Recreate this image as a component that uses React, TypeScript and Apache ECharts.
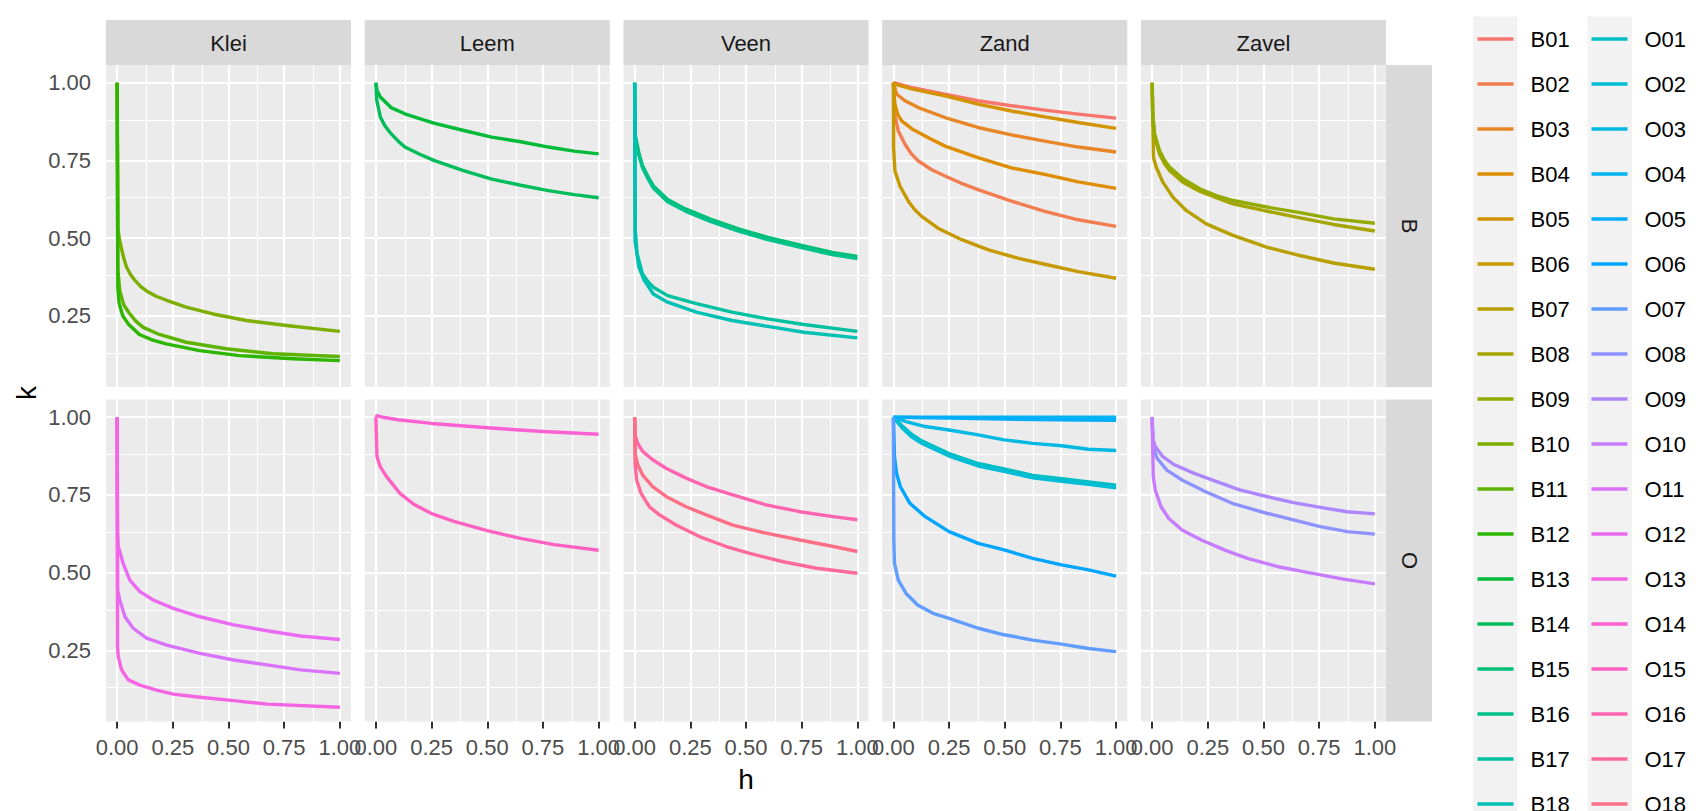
import React, { useEffect, useRef } from 'react';
import * as echarts from 'echarts';

// ---------- categories & ticks ----------
const SOILS = ['Klei', 'Leem', 'Veen', 'Zand', 'Zavel'];
const GROUPS = ['B', 'O'];
const X_TICKS = [0, 0.25, 0.5, 0.75, 1];
const X_MINOR = [0.125, 0.375, 0.625, 0.875];
const Y_TICKS = [0.25, 0.5, 0.75, 1];
const Y_MINOR = [0.125, 0.375, 0.625, 0.875];
const X_TITLE = 'h';
const Y_TITLE = 'k';

// ---------- series values: [h, k] ----------
const B01 = [[0, 1], [0.08, 0.985], [0.23, 0.963], [0.38, 0.942], [0.53, 0.926], [0.68, 0.912], [0.83, 0.899], [1, 0.886]];
const B02 = [[0, 1], [0.005, 0.9], [0.022, 0.845], [0.052, 0.802], [0.08, 0.772], [0.112, 0.748], [0.172, 0.72], [0.232, 0.7], [0.3, 0.678], [0.38, 0.656], [0.53, 0.619], [0.68, 0.586], [0.83, 0.559], [1, 0.538]];
const B03 = [[0, 1], [0.015, 0.963], [0.052, 0.942], [0.112, 0.92], [0.232, 0.888], [0.38, 0.856], [0.53, 0.832], [0.68, 0.812], [0.83, 0.793], [1, 0.777]];
const B04 = [[0, 1], [0.003, 0.96], [0.007, 0.931], [0.02, 0.897], [0.037, 0.877], [0.082, 0.852], [0.157, 0.823], [0.232, 0.796], [0.38, 0.759], [0.53, 0.726], [0.68, 0.705], [0.83, 0.681], [1, 0.66]];
const B05 = [[0, 1], [0.022, 0.992], [0.082, 0.98], [0.232, 0.958], [0.38, 0.931], [0.53, 0.909], [0.68, 0.89], [0.83, 0.872], [1, 0.853]];
const B06 = [[0, 1], [0.001, 0.79], [0.007, 0.716], [0.03, 0.667], [0.067, 0.619], [0.095, 0.592], [0.127, 0.57], [0.2, 0.532], [0.307, 0.495], [0.427, 0.462], [0.562, 0.435], [0.68, 0.416], [0.83, 0.392], [1, 0.371]];
const B07 = [[0, 1], [0.006, 0.76], [0.018, 0.729], [0.048, 0.68], [0.093, 0.632], [0.153, 0.589], [0.243, 0.546], [0.363, 0.509], [0.514, 0.471], [0.664, 0.444], [0.814, 0.42], [1, 0.4]];
const B08 = [[0, 1], [0.003, 0.88], [0.011, 0.825], [0.033, 0.771], [0.055, 0.74], [0.078, 0.718], [0.138, 0.68], [0.213, 0.651], [0.288, 0.63], [0.363, 0.61], [0.514, 0.587], [0.664, 0.565], [0.814, 0.544], [1, 0.523]];
const B09 = [[0, 1], [0.003, 0.9], [0.011, 0.836], [0.033, 0.782], [0.055, 0.751], [0.078, 0.729], [0.138, 0.691], [0.213, 0.659], [0.288, 0.637], [0.363, 0.621], [0.514, 0.6], [0.664, 0.582], [0.814, 0.562], [1, 0.548]];
const B10 = [[0, 1], [0.004, 0.525], [0.012, 0.49], [0.02, 0.465], [0.03, 0.435], [0.042, 0.407], [0.06, 0.383], [0.08, 0.364], [0.105, 0.345], [0.132, 0.33], [0.175, 0.313], [0.222, 0.3], [0.31, 0.278], [0.43, 0.256], [0.58, 0.235], [0.76, 0.219], [1, 0.2]];
const B11 = [[0, 1], [0.003, 0.4], [0.012, 0.33], [0.03, 0.285], [0.057, 0.256], [0.085, 0.232], [0.117, 0.213], [0.19, 0.19], [0.31, 0.165], [0.49, 0.144], [0.7, 0.128], [1, 0.119]];
const B12 = [[0, 1], [0.003, 0.34], [0.009, 0.29], [0.025, 0.25], [0.05, 0.224], [0.1, 0.19], [0.16, 0.172], [0.22, 0.16], [0.37, 0.138], [0.55, 0.122], [0.79, 0.112], [1, 0.106]];
const B13 = [[0, 1], [0.005, 0.975], [0.02, 0.954], [0.068, 0.92], [0.13, 0.9], [0.26, 0.87], [0.39, 0.847], [0.52, 0.825], [0.65, 0.81], [0.775, 0.793], [0.89, 0.78], [1, 0.771]];
const B14 = [[0, 1], [0.004, 0.943], [0.02, 0.89], [0.04, 0.862], [0.068, 0.836], [0.1, 0.812], [0.13, 0.793], [0.197, 0.77], [0.26, 0.75], [0.39, 0.718], [0.52, 0.69], [0.65, 0.67], [0.775, 0.653], [0.89, 0.64], [1, 0.63]];
const B15 = [[0, 1], [0.003, 0.83], [0.019, 0.774], [0.035, 0.734], [0.06, 0.698], [0.084, 0.668], [0.148, 0.624], [0.228, 0.594], [0.34, 0.561], [0.47, 0.529], [0.598, 0.502], [0.759, 0.475], [0.887, 0.454], [1, 0.441]];
const B16 = [[0, 1], [0.003, 0.82], [0.019, 0.767], [0.035, 0.727], [0.06, 0.691], [0.084, 0.661], [0.148, 0.617], [0.228, 0.587], [0.34, 0.554], [0.47, 0.522], [0.598, 0.495], [0.759, 0.468], [0.887, 0.447], [1, 0.434]];
const B17 = [[0, 1], [0.003, 0.525], [0.011, 0.45], [0.035, 0.385], [0.06, 0.36], [0.084, 0.342], [0.148, 0.315], [0.277, 0.289], [0.437, 0.262], [0.598, 0.24], [0.759, 0.222], [1, 0.2]];
const B18 = [[0, 1], [0.002, 0.49], [0.019, 0.407], [0.043, 0.364], [0.084, 0.32], [0.148, 0.294], [0.277, 0.262], [0.437, 0.235], [0.598, 0.216], [0.759, 0.197], [1, 0.179]];
const O01 = [[0, 1], [0.04, 0.972], [0.08, 0.946], [0.122, 0.926], [0.25, 0.883], [0.381, 0.851], [0.497, 0.834], [0.626, 0.813], [0.755, 0.802], [0.876, 0.792], [1, 0.781]];
const O02 = [[0, 1], [0.04, 0.965], [0.08, 0.938], [0.122, 0.918], [0.25, 0.875], [0.381, 0.843], [0.497, 0.826], [0.626, 0.805], [0.755, 0.794], [0.876, 0.784], [1, 0.773]];
const O03 = [[0, 1], [0.057, 0.986], [0.143, 0.97], [0.25, 0.959], [0.381, 0.943], [0.497, 0.927], [0.626, 0.916], [0.755, 0.908], [0.876, 0.897], [1, 0.893]];
const O04 = [[0, 1], [0.25, 1], [0.5, 1], [0.75, 1], [1, 1]];
const O05 = [[0, 1], [0.25, 0.997], [0.5, 0.994], [0.75, 0.992], [1, 0.99]];
const O06 = [[0, 1], [0.005, 0.873], [0.014, 0.82], [0.031, 0.777], [0.074, 0.723], [0.143, 0.68], [0.25, 0.632], [0.381, 0.594], [0.497, 0.573], [0.626, 0.546], [0.755, 0.525], [0.876, 0.509], [1, 0.489]];
const O07 = [[0, 1], [0.002, 0.605], [0.005, 0.53], [0.022, 0.476], [0.057, 0.433], [0.109, 0.396], [0.178, 0.369], [0.25, 0.353], [0.381, 0.321], [0.497, 0.3], [0.626, 0.283], [0.755, 0.27], [0.876, 0.256], [1, 0.246]];
const O08 = [[0, 1], [0.005, 0.905], [0.022, 0.868], [0.066, 0.83], [0.134, 0.798], [0.238, 0.761], [0.359, 0.723], [0.514, 0.691], [0.634, 0.67], [0.755, 0.648], [0.876, 0.632], [1, 0.624]];
const O09 = [[0, 1], [0.003, 0.93], [0.014, 0.906], [0.048, 0.873], [0.1, 0.847], [0.186, 0.82], [0.29, 0.793], [0.393, 0.766], [0.514, 0.745], [0.634, 0.725], [0.755, 0.71], [0.876, 0.696], [1, 0.689]];
const O10 = [[0, 1], [0.005, 0.809], [0.014, 0.766], [0.04, 0.712], [0.074, 0.675], [0.134, 0.637], [0.221, 0.605], [0.324, 0.573], [0.428, 0.546], [0.566, 0.519], [0.703, 0.5], [0.859, 0.479], [1, 0.464]];
const O11 = [[0, 1], [0.002, 0.444], [0.012, 0.412], [0.035, 0.358], [0.072, 0.321], [0.132, 0.289], [0.222, 0.267], [0.372, 0.24], [0.523, 0.219], [0.673, 0.203], [0.823, 0.187], [1, 0.176]];
const O12 = [[0, 1], [0.002, 0.627], [0.005, 0.584], [0.027, 0.53], [0.057, 0.476], [0.102, 0.439], [0.162, 0.412], [0.252, 0.385], [0.372, 0.358], [0.523, 0.332], [0.673, 0.313], [0.823, 0.296], [1, 0.285]];
const O13 = [[0, 1], [0.002, 0.262], [0.005, 0.23], [0.02, 0.187], [0.05, 0.155], [0.102, 0.138], [0.177, 0.122], [0.252, 0.109], [0.372, 0.099], [0.523, 0.088], [0.673, 0.077], [1, 0.067]];
const O14 = [[0, 1], [0.005, 1.005], [0.03, 1.0], [0.1, 0.992], [0.25, 0.98], [0.5, 0.966], [0.75, 0.954], [1, 0.945]];
const O15 = [[0, 1], [0.003, 0.92], [0.005, 0.873], [0.02, 0.84], [0.048, 0.809], [0.108, 0.755], [0.17, 0.72], [0.25, 0.69], [0.35, 0.665], [0.5, 0.635], [0.65, 0.61], [0.8, 0.59], [1, 0.572]];
const O16 = [[0, 1], [0.003, 0.94], [0.014, 0.916], [0.036, 0.89], [0.081, 0.863], [0.141, 0.836], [0.231, 0.804], [0.321, 0.777], [0.441, 0.75], [0.59, 0.718], [0.742, 0.696], [0.892, 0.68], [1, 0.67]];
const O17 = [[0, 1], [0.002, 0.85], [0.009, 0.798], [0.029, 0.755], [0.066, 0.712], [0.111, 0.686], [0.186, 0.653], [0.291, 0.616], [0.411, 0.584], [0.517, 0.562], [0.667, 0.535], [0.817, 0.514], [1, 0.498]];
const O18 = [[0, 1], [0.003, 0.88], [0.014, 0.847], [0.036, 0.814], [0.081, 0.777], [0.141, 0.745], [0.231, 0.712], [0.321, 0.686], [0.441, 0.653], [0.59, 0.627], [0.742, 0.605], [0.892, 0.584], [1, 0.568]];

const IDS = [
  'B01', 'B02', 'B03', 'B04', 'B05', 'B06', 'B07', 'B08', 'B09', 'B10', 'B11', 'B12', 'B13', 'B14', 'B15', 'B16', 'B17', 'B18',
  'O01', 'O02', 'O03', 'O04', 'O05', 'O06', 'O07', 'O08', 'O09', 'O10', 'O11', 'O12', 'O13', 'O14', 'O15', 'O16', 'O17', 'O18',
];
const SOIL_OF = [
  'Zand', 'Zand', 'Zand', 'Zand', 'Zand', 'Zand', 'Zavel', 'Zavel', 'Zavel', 'Klei', 'Klei', 'Klei', 'Leem', 'Leem', 'Veen', 'Veen', 'Veen', 'Veen',
  'Zand', 'Zand', 'Zand', 'Zand', 'Zand', 'Zand', 'Zand', 'Zavel', 'Zavel', 'Zavel', 'Klei', 'Klei', 'Klei', 'Leem', 'Leem', 'Veen', 'Veen', 'Veen',
];
const POINTS = [
  B01, B02, B03, B04, B05, B06, B07, B08, B09, B10, B11, B12, B13, B14, B15, B16, B17, B18,
  O01, O02, O03, O04, O05, O06, O07, O08, O09, O10, O11, O12, O13, O14, O15, O16, O17, O18,
];

// ---------- ggplot hue palette (hcl) ----------
function hcl(h: number, c: number, l: number): string {
  const Xn = 95.047, Yn = 100.0, Zn = 108.883;
  const hr = (h * Math.PI) / 180;
  const U = c * Math.cos(hr), V = c * Math.sin(hr);
  const Y = l > 8 ? Yn * Math.pow((l + 16) / 116, 3) : (Yn * l) / 903.2963;
  const t = Xn + 15 * Yn + 3 * Zn;
  const un = (4 * Xn) / t, vn = (9 * Yn) / t;
  const u = U / (13 * l) + un, v = V / (13 * l) + vn;
  const X = (9 * Y * u) / (4 * v);
  const Z = -X / 3 - 5 * Y + (3 * Y) / v;
  const lin = [
    (3.240479 * X - 1.53715 * Y - 0.498535 * Z) / 100,
    (-0.969256 * X + 1.875992 * Y + 0.041556 * Z) / 100,
    (0.055648 * X - 0.204043 * Y + 1.057311 * Z) / 100,
  ];
  const g = (x: number) => (x > 0.0031308 ? 1.055 * Math.pow(x, 1 / 2.4) - 0.055 : 12.92 * x);
  return '#' + lin.map((x) => Math.round(Math.max(0, Math.min(1, g(x))) * 255).toString(16).padStart(2, '0')).join('');
}

// ---------- layout ----------
const COL_LEFT = (i: number) => 106 + i * 258.75;
const ROW_TOP = [65, 399.5];
const PANEL_W = 245;
const PANEL_H = 322;
const X_MIN = -0.05, X_MAX = 1.05;
const Y_MIN = 0.021, Y_MAX = 1.057;
const FONT = 'Liberation Sans';

function buildOption() {
  const grids: any[] = [];
  const xAxes: any[] = [];
  const yAxes: any[] = [];
  const series: any[] = [];

  const gridLineData = [
    ...X_TICKS.map((v) => ({ xAxis: v, lineStyle: { width: 2.2, color: '#FFFFFF', type: 'solid' } })),
    ...X_MINOR.map((v) => ({ xAxis: v, lineStyle: { width: 1.1, color: '#FFFFFF', type: 'solid' } })),
    ...Y_TICKS.map((v) => ({ yAxis: v, lineStyle: { width: 2.2, color: '#FFFFFF', type: 'solid' } })),
    ...Y_MINOR.map((v) => ({ yAxis: v, lineStyle: { width: 1.1, color: '#FFFFFF', type: 'solid' } })),
  ];

  GROUPS.forEach((grp, r) => {
    SOILS.forEach((soil, c) => {
      const gi = r * SOILS.length + c;
      grids.push({
        left: COL_LEFT(c), top: ROW_TOP[r], width: PANEL_W, height: PANEL_H,
        show: true, backgroundColor: '#EBEBEB', borderWidth: 0, containLabel: false, outerBoundsMode: 'none',
      });
      xAxes.push({
        type: 'value', gridIndex: gi, min: X_MIN, max: X_MAX,
        axisLine: { show: false },
        splitLine: { show: false },
        axisTick: { show: r === 1, length: 7, lineStyle: { color: '#333333', width: 2 }, customValues: X_TICKS },
        axisLabel: {
          show: r === 1, customValues: X_TICKS, margin: 15, color: '#4D4D4D', fontSize: 22, fontFamily: FONT,
          formatter: (v: number) => v.toFixed(2), showMinLabel: true, showMaxLabel: true,
        },
      });
      yAxes.push({
        type: 'value', gridIndex: gi, min: Y_MIN, max: Y_MAX,
        axisLine: { show: false },
        splitLine: { show: false },
        axisTick: { show: c === 0, length: 7, lineStyle: { color: '#333333', width: 2 }, customValues: Y_TICKS },
        axisLabel: {
          show: c === 0, customValues: Y_TICKS, margin: 15, color: '#4D4D4D', fontSize: 22, fontFamily: FONT,
          formatter: (v: number) => v.toFixed(2), showMinLabel: true, showMaxLabel: true,
        },
      });
      series.push({
        type: 'line', name: '__grid' + gi, xAxisIndex: gi, yAxisIndex: gi, z: 1,
        data: [[0.5, 0.5]], symbol: 'none', showSymbol: false, lineStyle: { width: 0, opacity: 0 },
        silent: true, legendHoverLink: false,
        markLine: {
          z: 1, silent: true, symbol: ['none', 'none'], label: { show: false }, animation: false,
          emphasis: { disabled: true }, data: gridLineData,
        },
      });
    });
  });

  IDS.forEach((id, i) => {
    const r = id.charAt(0) === 'B' ? 0 : 1;
    const c = SOILS.indexOf(SOIL_OF[i]);
    const gi = r * SOILS.length + c;
    const color = hcl(15 + i * 10, 100, 65);
    series.push({
      type: 'line', name: id, xAxisIndex: gi, yAxisIndex: gi, z: 10,
      data: POINTS[i], symbol: 'none', showSymbol: false, clip: true,
      lineStyle: { color, width: 3.4, join: 'round', cap: 'butt' }, itemStyle: { color },
      emphasis: { disabled: true },
    });
  });

  const graphic: any[] = [];
  SOILS.forEach((soil, c) => {
    graphic.push({ type: 'rect', z: 0, shape: { x: COL_LEFT(c), y: 20, width: PANEL_W, height: 45 }, style: { fill: '#D9D9D9' } });
    graphic.push({
      type: 'text', z: 1, x: COL_LEFT(c) + PANEL_W / 2, y: 43,
      style: { text: soil, x: 0, y: 0, fill: '#1A1A1A', fontSize: 22, fontFamily: FONT, align: 'center', verticalAlign: 'middle', textAlign: 'center', textVerticalAlign: 'middle' },
    });
  });
  GROUPS.forEach((grp, r) => {
    graphic.push({ type: 'rect', z: 0, shape: { x: 1386, y: ROW_TOP[r], width: 46, height: PANEL_H }, style: { fill: '#D9D9D9' } });
    graphic.push({
      type: 'text', z: 1, x: 1409, y: ROW_TOP[r] + PANEL_H / 2, rotation: -Math.PI / 2,
      style: { text: grp, x: 0, y: 0, fill: '#1A1A1A', fontSize: 22, fontFamily: FONT, align: 'center', verticalAlign: 'middle', textAlign: 'center', textVerticalAlign: 'middle' },
    });
  });
  graphic.push({
    type: 'text', z: 1, x: 746, y: 779,
    style: { text: X_TITLE, x: 0, y: 0, fill: '#000000', fontSize: 28, fontFamily: FONT, align: 'center', verticalAlign: 'middle', textAlign: 'center', textVerticalAlign: 'middle' },
  });
  graphic.push({
    type: 'text', z: 1, x: 26, y: 393, rotation: Math.PI / 2,
    style: { text: Y_TITLE, x: 0, y: 0, fill: '#000000', fontSize: 28, fontFamily: FONT, align: 'center', verticalAlign: 'middle', textAlign: 'center', textVerticalAlign: 'middle' },
  });
  graphic.push({ type: 'rect', z: 0, shape: { x: 1473, y: 16.5, width: 44.5, height: 800 }, style: { fill: '#F2F2F2' } });
  graphic.push({ type: 'rect', z: 0, shape: { x: 1587.5, y: 16.5, width: 44.5, height: 800 }, style: { fill: '#F2F2F2' } });

  const legendBase = {
    orient: 'vertical', top: 27, padding: 0, height: 1200, itemWidth: 36, itemHeight: 3.4, itemGap: 21,
    icon: 'rect', selectedMode: false,
    textStyle: { fontSize: 22, fontFamily: FONT, color: '#000000', lineHeight: 24, padding: [0, 0, 0, 12] },
  };

  return {
    animation: false,
    backgroundColor: '#FFFFFF',
    grid: grids,
    xAxis: xAxes,
    yAxis: yAxes,
    series,
    graphic,
    legend: [
      { ...legendBase, left: 1477.5, data: IDS.slice(0, 18) },
      { ...legendBase, left: 1591.5, data: IDS.slice(18) },
    ],
  };
}

export default function App() {
  const ref = useRef<HTMLDivElement>(null);
  useEffect(() => {
    document.body.style.margin = '0';
    document.body.style.overflow = 'hidden';
    const chart = echarts.init(ref.current as HTMLDivElement, null, { renderer: 'svg' });
    chart.setOption(buildOption() as any);
    return () => chart.dispose();
  }, []);
  return <div ref={ref} style={{ width: 1699, height: 811 }} />;
}
